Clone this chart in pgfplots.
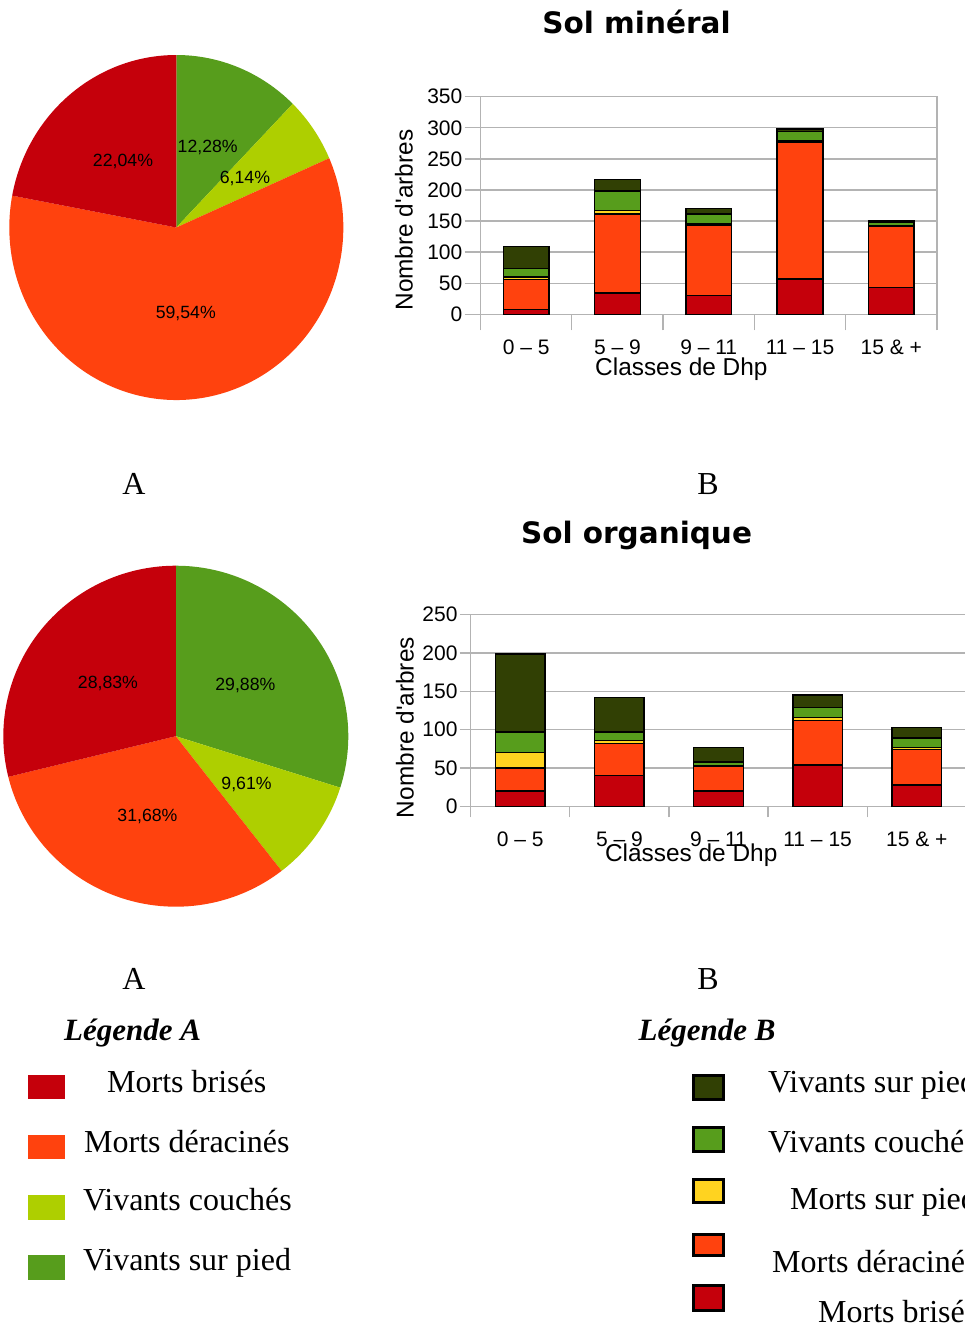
\documentclass[border=0pt]{standalone}
\usepackage{fontspec}
\setmainfont{Liberation Serif}
\newfontfamily\arial{Liberation Sans}
\newfontfamily\dejavu{DejaVu Sans}
\usepackage{pgfplots}
\pgfplotsset{compat=1.18}
\usepackage{pgfplotstable}

\definecolor{cRed}{HTML}{C5000B}
\definecolor{cOrange}{HTML}{FF420E}
\definecolor{cYellow}{HTML}{FFD320}
\definecolor{cGreen}{HTML}{579D1C}
\definecolor{cDark}{HTML}{314004}
\definecolor{cLime}{HTML}{AECF00}
\definecolor{gridgray}{HTML}{B3B3B3}

\newcommand\tickf{\arial\fontsize{21}{25}\selectfont}
\newcommand\labf{\arial\fontsize{24.4}{28}\selectfont}
\newcommand\pief{\arial\fontsize{17.7}{20}\selectfont}
\newcommand\legf{\fontsize{32}{38}\selectfont}

% number of trees per DBH class
% br = morts brises, de = morts deracines, mp = morts sur pied,
% vc = vivants couches, vp = vivants sur pied
\pgfplotstableread{
x br de mp vc vp
0 8 48 4 14 35
1 34 127 6 31 19
2 30 114 1 16 9
3 57 220 2 15 4
4 43 99 1 5 2
}\mineral

\pgfplotstableread{
x br de mp vc vp
0 20 30 20 27 102
1 40 42 4 11 45
2 20 32 1 5 19
3 54 58 4 13 16
4 28 46 3 12 14
}\organique

% pie slice, clockwise from 12 o'clock: value, colour, label
\newcommand\slice[3]{%
  \pgfmathsetmacro\sa{90-3.6*\pct}%
  \pgfmathsetmacro\ea{90-3.6*(\pct+#1)}%
  \pgfmathsetmacro\ma{(\sa+\ea)/2}%
  \pgfmathsetmacro\bx{cos(\sa)}\pgfmathsetmacro\by{sin(\sa)}%
  \pgfmathsetmacro\lx{0.5*cos(\ma)}\pgfmathsetmacro\ly{0.5*sin(\ma)}%
  \edef\temp{%
    \noexpand\fill[#2] (axis cs:0,0) -- (axis cs:\bx,\by)
      arc[start angle=\sa, end angle=\ea, x radius=\rx, y radius=\ry] -- cycle;
    \noexpand\node[font=\noexpand\pief] at (axis cs:\lx,\ly) {#3};}%
  \temp
  \pgfmathsetmacro\pct{\pct+#1}%
}

\pgfplotsset{
  dhp/.style={
    scale only axis, anchor=south west,
    ybar stacked, bar width=0.5,
    xmin=-0.5, xmax=4.5, ymin=0,
    xtick={-0.5,0.5,...,4.5}, xticklabels={},
    extra x ticks={0,1,2,3,4},
    extra x tick labels={0 – 5,5 – 9,9 – 11,11 – 15,15 \& +},
    extra x tick style={major tick length=0pt,
      tick label style={anchor=base, yshift=-40pt}},
    xtick pos=bottom, ytick pos=left, tick align=outside,
    ymajorgrids, grid style={gridgray, line width=1.3pt},
    axis line style={gridgray, line width=1.3pt},
    tick style={gridgray, line width=1.3pt},
    ticklabel style={font=\tickf, text=black},
    yticklabel style={inner sep=2pt},
    /pgf/number format/assume math mode=true,
    xlabel={Classes de Dhp}, ylabel={Nombre d\textquotesingle arbres},
    every axis plot/.append style={draw=black, line width=1.5pt},
  }
}

\begin{document}
\begin{tikzpicture}
\path[use as bounding box] (0,0) rectangle (965pt,-1328pt);

% ---- pie A
\begin{axis}[at={(176.3pt,-227.5pt)}, anchor=center, hide axis,
  x=167pt, y=172.5pt, xmin=-1, xmax=1, ymin=-1, ymax=1, clip=false]
  \def\rx{167pt}\def\ry{172.5pt}\def\pct{0}
  \slice{12.28}{cGreen}{12,28\%}
  \slice{6.14}{cLime}{6,14\%}
  \slice{59.54}{cOrange}{59,54\%}
  \slice{22.04}{cRed}{22,04\%}
\end{axis}

% ---- pie A (sol organique)
\begin{axis}[at={(175.8pt,-736.2pt)}, anchor=center, hide axis,
  x=172.5pt, y=170.5pt, xmin=-1, xmax=1, ymin=-1, ymax=1, clip=false]
  \def\rx{172.5pt}\def\ry{170.5pt}\def\pct{0}
  \slice{29.88}{cGreen}{29,88\%}
  \slice{9.61}{cLime}{9,61\%}
  \slice{31.68}{cOrange}{31,68\%}
  \slice{28.83}{cRed}{28,83\%}
\end{axis}

% ---- bars, sol mineral
\begin{axis}[dhp, at={(480.5pt,-314.3pt)}, width=456.5pt, height=217.6pt,
  ymax=350, ytick={0,50,...,350}, major tick length=16pt,
  every axis y label/.style={at={(axis description cs:-0.168,0.433)}, rotate=90, anchor=center, font=\labf},
  every axis x label/.style={at={(axis description cs:0.44,0)}, anchor=base, yshift=-61pt, font=\labf}]
  \addplot[fill=cRed] table[x=x, y=br]{\mineral};
  \addplot[fill=cOrange] table[x=x, y=de]{\mineral};
  \addplot[fill=cYellow] table[x=x, y=mp]{\mineral};
  \addplot[fill=cGreen] table[x=x, y=vc]{\mineral};
  \addplot[fill=cDark] table[x=x, y=vp]{\mineral};
\end{axis}

% ---- bars, sol organique
\begin{axis}[dhp, at={(470.7pt,-806.3pt)}, width=495.6pt, height=191.6pt,
  ymax=250, ytick={0,50,...,250}, major tick length=11pt,
  every axis y label/.style={at={(axis description cs:-0.133,0.411)}, rotate=90, anchor=center, font=\labf},
  every axis x label/.style={at={(axis description cs:0.445,0)}, anchor=base, yshift=-55pt, font=\labf}]
  \addplot[fill=cRed] table[x=x, y=br]{\organique};
  \addplot[fill=cOrange] table[x=x, y=de]{\organique};
  \addplot[fill=cYellow] table[x=x, y=mp]{\organique};
  \addplot[fill=cGreen] table[x=x, y=vc]{\organique};
  \addplot[fill=cDark] table[x=x, y=vp]{\organique};
\end{axis}

% ---- titles and panel letters
\node[font=\dejavu\bfseries\fontsize{29.5}{34}\selectfont, anchor=base] at (636.5pt,-33pt) {Sol minéral};
\node[font=\dejavu\bfseries\fontsize{29.5}{34}\selectfont, anchor=base] at (636.5pt,-543pt) {Sol organique};
\foreach \yy in {494,989} {
  \node[font=\legf, anchor=base] at (134pt,-\yy pt) {A};
  \node[font=\legf, anchor=base] at (708pt,-\yy pt) {B};
}

% ---- legend A
\node[font=\bfseries\itshape\fontsize{31}{36}\selectfont, anchor=base] at (132.5pt,-1040pt) {Légende A};
\fill[cRed] (28pt,-1075pt) rectangle (65pt,-1099pt);
\fill[cOrange] (28pt,-1135pt) rectangle (65pt,-1159pt);
\fill[cLime] (28pt,-1195pt) rectangle (65pt,-1220pt);
\fill[cGreen] (28pt,-1255pt) rectangle (65pt,-1280pt);
\node[font=\legf, anchor=base west, inner sep=0] at (107pt,-1092pt) {Morts brisés};
\node[font=\legf, anchor=base west, inner sep=0] at (84pt,-1152pt) {Morts déracinés};
\node[font=\legf, anchor=base west, inner sep=0] at (83pt,-1210pt) {Vivants couchés};
\node[font=\legf, anchor=base west, inner sep=0] at (83pt,-1270pt) {Vivants sur pied};

% ---- legend B (cut at the right edge, as in the reference)
\node[font=\bfseries\itshape\fontsize{31}{36}\selectfont, anchor=base] at (707pt,-1040pt) {Légende B};
\draw[fill=cDark, line width=3pt] (693.5pt,-1075.5pt) rectangle (723.5pt,-1099.5pt);
\draw[fill=cGreen, line width=3pt] (693.5pt,-1127.5pt) rectangle (723.5pt,-1151.5pt);
\draw[fill=cYellow, line width=3pt] (693.5pt,-1179.5pt) rectangle (723.5pt,-1202.5pt);
\draw[fill=cOrange, line width=3pt] (693.5pt,-1234.5pt) rectangle (723.5pt,-1255.5pt);
\draw[fill=cRed, line width=3pt] (693.5pt,-1285.5pt) rectangle (723.5pt,-1310.5pt);
\node[font=\legf, anchor=base west, inner sep=0] at (768pt,-1092pt) {Vivants sur pied};
\node[font=\legf, anchor=base west, inner sep=0] at (768pt,-1152pt) {Vivants couchés};
\node[font=\legf, anchor=base west, inner sep=0] at (790pt,-1209pt) {Morts sur pied};
\node[font=\legf, anchor=base west, inner sep=0] at (772pt,-1272pt) {Morts déracinés};
\node[font=\legf, anchor=base west, inner sep=0] at (818pt,-1322pt) {Morts brisés};
\end{tikzpicture}
\end{document}
